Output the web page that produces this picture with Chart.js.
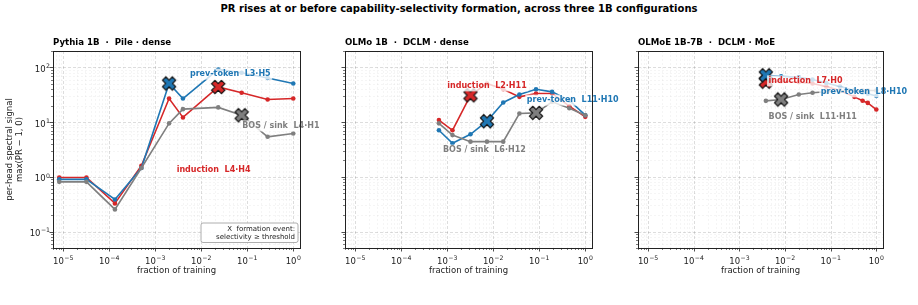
<!DOCTYPE html>
<html>
<head>
<meta charset="utf-8">
<script src="https://cdn.jsdelivr.net/npm/chart.js@4.4.1/dist/chart.umd.min.js"></script>
<style>
  html, body { margin: 0; padding: 0; background: #fff; }
  #wrap { position: relative; width: 918px; height: 305px; overflow: hidden; }
  #title { position: absolute; left: 0; top: 3px; width: 918px; line-height: 16px; text-align: center;
           font: bold 10px "DejaVu Sans"; color: #000; }
  canvas { position: absolute; top: 0; }
</style>
</head>
<body>
<div id="wrap">
  <div id="title">PR rises at or before capability-selectivity formation, across three 1B configurations</div>
  <canvas id="c1" width="330" height="305" style="left:0px;width:330px;height:305px"></canvas>
  <canvas id="c2" width="300" height="305" style="left:330px;width:300px;height:305px"></canvas>
  <canvas id="c3" width="288" height="305" style="left:630px;width:288px;height:305px"></canvas>
</div>
<script>
// ---- data ----
const xTickValues = [1e-5, 1e-4, 1e-3, 1e-2, 1e-1, 1];
const xTickExponents = ['\u22125', '\u22124', '\u22123', '\u22122', '\u22121', '0'];
const yTickValues = [0.1, 1, 10, 100];
const yTickExponents = ['\u22121', '0', '1', '2'];

// Pythia 1B
const pythiaFrac       = [8.2e-6, 3.2e-5, 1.33e-4, 5e-4, 2e-3, 4e-3, 0.0234, 0.0755, 0.277, 1.0];
const pythiaInduction  = [0.975, 0.975, 0.327, 1.6, 27, 12.2, 44, 34.4, 26, 27.1];
const pythiaPrevToken  = [0.9, 0.9, 0.386, 1.45, 51, 27, 92, 80, 64, 51];
const pythiaSink       = [0.81, 0.81, 0.254, 1.45, 9.5, 17.3, 18.6, 13.4, 5.4, 6.2];
const pythiaFormation  = [6, 4, 7];   // checkpoint index: induction, prev-token, sink

// OLMo 1B
const olmoFrac         = [6.6e-4, 1.3e-3, 3.2e-3, 7.3e-3, 0.0165, 0.037, 0.085, 0.19, 0.45, 1.0];
const olmoInduction    = [10.9, 7.1, 31, 51, 40, 29, 33.5, 33.5, 19.6, 12.5];
const olmoPrevToken    = [7.1, 4.1, 6.0, 10.4, 22.9, 32, 40, 35.8, 25, 13.4];
const olmoSink         = [9.5, 5.8, 4.4, 4.4, 4.4, 14.4, 14.8, 23.5, 18, 13.4];
const olmoFormation    = [2, 3, 6];

// OLMoE 1B-7B
const olmoeFrac        = [3.8e-3, 8.2e-3, 0.020, 0.040, 0.08, 0.16, 0.33, 0.5, 0.65, 1.0];
const olmoeInduction   = [55, 56, 54, 51, 45, 38, 29, 24.6, 22.5, 17];
const olmoePrevToken   = [72, 69, 66, 60, 52, 45, 38, 35, 33, 30];
const olmoeSink        = [24.5, 26, 32, 34.4, 36, 37, 38, 38, 38, 38];
const olmoeFormation   = [0, 0, 1];

const headNames = {
  pythia: ['induction  L4\u00B7H4', 'prev-token  L3\u00B7H5', 'BOS / sink  L4\u00B7H1'],
  olmo:   ['induction  L2\u00B7H11', 'prev-token  L11\u00B7H10', 'BOS / sink  L6\u00B7H12'],
  olmoe:  ['induction  L7\u00B7H0', 'prev-token  L8\u00B7H10', 'BOS / sink  L11\u00B7H11']
};

// ---- styling ----
const COLORS = { induction: '#d62728', prevToken: '#1f77b4', sink: '#7f7f7f' };
const FONT = 'DejaVu Sans';
const X_MIN = 6e-6, X_MAX = 1.4, Y_MIN = 0.05, Y_MAX = 200;

function makeXMarker(color) {
  const s = 18;
  const c = document.createElement('canvas');
  c.width = s; c.height = s;
  const g = c.getContext('2d');
  g.translate(s / 2, s / 2);
  g.rotate(Math.PI / 4);
  const L = 7, w = 2.4;
  const pts = [[-w,-L],[w,-L],[w,-w],[L,-w],[L,w],[w,w],[w,L],[-w,L],[-w,w],[-L,w],[-L,-w],[-w,-w]];
  g.beginPath();
  pts.forEach((p, i) => i ? g.lineTo(p[0], p[1]) : g.moveTo(p[0], p[1]));
  g.closePath();
  g.fillStyle = color;
  g.fill();
  g.lineWidth = 1.1;
  g.strokeStyle = '#111';
  g.stroke();
  return c;
}

function pts(xs, ys) { return xs.map((x, i) => ({ x: x, y: ys[i] })); }

function lineSet(xs, ys, color) {
  return {
    data: pts(xs, ys), borderColor: color, backgroundColor: color,
    borderWidth: 1.6, pointRadius: 2.3, pointBorderWidth: 0, tension: 0, clip: false
  };
}

function markerSet(x, y, color) {
  return {
    data: [{ x: x, y: y }], showLine: false, pointStyle: makeXMarker(color),
    pointRadius: 7, borderColor: color, backgroundColor: color
  };
}

function minorVals(lo, hi) {
  const out = [];
  for (let k = Math.floor(Math.log10(lo)); k <= Math.ceil(Math.log10(hi)); k++) {
    for (let m = 2; m <= 9; m++) {
      const v = m * Math.pow(10, k);
      if (v >= lo && v <= hi) out.push(v);
    }
  }
  return out;
}

// "10" with a raised, smaller exponent, like mathtext
function drawPower(ctx, exp, x, baseY, align) {
  ctx.font = '8.5px "' + FONT + '"';
  const wBase = ctx.measureText('10').width;
  ctx.font = '6.2px "' + FONT + '"';
  const wExp = ctx.measureText(exp).width;
  const total = wBase + wExp + 0.4;
  const start = align === 'center' ? x - total / 2 : x - total;
  ctx.textAlign = 'left';
  ctx.textBaseline = 'alphabetic';
  ctx.font = '8.5px "' + FONT + '"';
  ctx.fillText('10', start, baseY);
  ctx.font = '6.2px "' + FONT + '"';
  ctx.fillText(exp, start + wBase + 0.4, baseY - 3.9);
}

// grid, ticks, frame, annotations, panel title
const decor = {
  id: 'decor',
  beforeDatasetsDraw(chart) {
    const { ctx, chartArea: a, scales: { x, y } } = chart;
    ctx.save();
    ctx.beginPath();
    ctx.rect(a.left, a.top, a.right - a.left, a.bottom - a.top);
    ctx.clip();
    const lines = (scale, horiz, vals, color, width, dash) => {
      ctx.strokeStyle = color; ctx.lineWidth = width; ctx.setLineDash(dash);
      vals.forEach(v => {
        const p = Math.round(scale.getPixelForValue(v)) + 0.5;
        ctx.beginPath();
        if (horiz) { ctx.moveTo(p, a.top); ctx.lineTo(p, a.bottom); }
        else { ctx.moveTo(a.left, p); ctx.lineTo(a.right, p); }
        ctx.stroke();
      });
    };
    lines(x, true, minorVals(X_MIN, X_MAX), 'rgba(0,0,0,0.07)', 0.6, [2, 2]);
    lines(y, false, minorVals(Y_MIN, Y_MAX), 'rgba(0,0,0,0.07)', 0.6, [2, 2]);
    lines(x, true, xTickValues, 'rgba(0,0,0,0.17)', 0.8, [3, 2]);
    lines(y, false, yTickValues, 'rgba(0,0,0,0.17)', 0.8, [3, 2]);
    ctx.restore();
  },
  afterDatasetsDraw(chart, args, opts) {
    const { ctx, chartArea: a, scales: { x, y } } = chart;
    ctx.save();
    // annotations
    ctx.font = 'bold 8px "' + FONT + '"';
    ctx.textBaseline = 'middle';
    (opts.labels || []).forEach(l => {
      const px = x.getPixelForValue(l.x), py = y.getPixelForValue(l.y);
      const w = ctx.measureText(l.text).width;
      ctx.fillStyle = 'rgba(255,255,255,0.78)';
      ctx.fillRect(px - 1.5, py - 5.5, w + 3, 11);
      ctx.fillStyle = l.color;
      ctx.textAlign = 'left';
      ctx.fillText(l.text, px, py);
    });
    // key box
    if (opts.key) {
      const r = a.right - 2.5, b = a.bottom - 6, bw = 97, bh = 19.5;
      ctx.beginPath();
      ctx.roundRect(r - bw + 0.5, b - bh + 0.5, bw, bh, 2);
      ctx.fillStyle = 'rgba(255,255,255,0.9)';
      ctx.fill();
      ctx.strokeStyle = '#999';
      ctx.lineWidth = 0.8;
      ctx.stroke();
      ctx.fillStyle = '#222';
      ctx.font = '7px "' + FONT + '"';
      ctx.textAlign = 'right';
      ctx.fillText(opts.key[0], r - 2.5, b - 12.4);
      ctx.fillText(opts.key[1], r - 2.5, b - 4.9);
    }
    // frame
    ctx.strokeStyle = '#222';
    ctx.lineWidth = 1;
    ctx.setLineDash([]);
    ctx.strokeRect(Math.round(a.left) + 0.5, Math.round(a.top) + 0.5,
                   Math.round(a.right - a.left), Math.round(a.bottom - a.top));
    // tick marks (outward)
    const tick = (scale, horiz, v, len, lw) => {
      const p = Math.round(scale.getPixelForValue(v)) + 0.5;
      ctx.lineWidth = lw;
      ctx.beginPath();
      if (horiz) { ctx.moveTo(p, a.bottom); ctx.lineTo(p, a.bottom + len); }
      else { ctx.moveTo(a.left, p); ctx.lineTo(a.left - len, p); }
      ctx.stroke();
    };
    minorVals(X_MIN, X_MAX).forEach(v => tick(x, true, v, 2, 0.6));
    minorVals(Y_MIN, Y_MAX).forEach(v => tick(y, false, v, 2, 0.6));
    xTickValues.forEach(v => tick(x, true, v, 3.5, 0.8));
    yTickValues.forEach(v => tick(y, false, v, 3.5, 0.8));
    // tick labels
    ctx.fillStyle = '#222';
    xTickValues.forEach((v, i) => drawPower(ctx, xTickExponents[i], x.getPixelForValue(v), a.bottom + 16, 'center'));
    if (opts.yLabels) {
      yTickValues.forEach((v, i) => drawPower(ctx, yTickExponents[i], a.left - 3, y.getPixelForValue(v) + 4.6, 'right'));
    }
    // panel title
    ctx.fillStyle = '#000';
    ctx.font = 'bold 8.6px "' + FONT + '"';
    ctx.textAlign = 'left';
    ctx.textBaseline = 'middle';
    ctx.fillText(opts.title, a.left, a.top - 8);
    ctx.restore();
  }
};

function makePanel(id, cfg) {
  const xs = cfg.frac;
  const datasets = [
    markerSet(xs[cfg.formation[1]], cfg.prevToken[cfg.formation[1]], COLORS.prevToken),
    markerSet(xs[cfg.formation[0]], cfg.induction[cfg.formation[0]], COLORS.induction),
    markerSet(xs[cfg.formation[2]], cfg.sink[cfg.formation[2]], COLORS.sink),
    lineSet(xs, cfg.sink, COLORS.sink),
    lineSet(xs, cfg.prevToken, COLORS.prevToken),
    lineSet(xs, cfg.induction, COLORS.induction)
  ];
  return new Chart(document.getElementById(id), {
    type: 'line',
    data: { datasets: datasets },
    plugins: [decor],
    options: {
      responsive: false,
      animation: false,
      events: [],
      layout: { padding: { left: 0, right: cfg.padRight, top: 51, bottom: 0 } },
      plugins: {
        legend: { display: false },
        tooltip: { enabled: false },
        decor: { title: cfg.title, labels: cfg.labels, key: cfg.key, yLabels: cfg.yLabels }
      },
      scales: {
        x: {
          type: 'logarithmic', min: X_MIN, max: X_MAX,
          afterBuildTicks: s => { s.ticks = xTickValues.map(v => ({ value: v })); },
          afterFit: s => { s.height = 57; },
          grid: { display: false }, border: { display: false },
          ticks: { display: false },
          title: {
            display: true, text: 'fraction of training', color: '#222',
            font: { family: FONT, size: 8.5, lineHeight: 1.2 },
            padding: { top: 0, bottom: 29.6 }
          }
        },
        y: {
          type: 'logarithmic', min: Y_MIN, max: Y_MAX,
          afterBuildTicks: s => { s.ticks = yTickValues.map(v => ({ value: v })); },
          afterFit: s => { s.width = cfg.yWidth; },
          grid: { display: false }, border: { display: false },
          ticks: { display: false },
          title: {
            display: cfg.yLabels, text: ['per-head spectral signal', 'max(PR \u2212 1, 0)'], color: '#222',
            font: { family: FONT, size: 8.5, lineHeight: 1.15 },
            padding: { top: 5.1, bottom: 0 }
          }
        }
      }
    }
  });
}

makePanel('c1', {
  title: 'Pythia 1B  \u00B7  Pile \u00B7 dense',
  frac: pythiaFrac, induction: pythiaInduction, prevToken: pythiaPrevToken, sink: pythiaSink,
  formation: pythiaFormation, yWidth: 53, padRight: 30, yLabels: true,
  key: ['X  formation event:', 'selectivity \u2265 threshold'],
  labels: [
    { text: headNames.pythia[1], x: 5.68e-3, y: 75.5, color: COLORS.prevToken },
    { text: headNames.pythia[0], x: 2.92e-3, y: 1.355, color: COLORS.induction },
    { text: headNames.pythia[2], x: 0.0778, y: 8.55, color: COLORS.sink }
  ]
});

makePanel('c2', {
  title: 'OLMo 1B  \u00B7  DCLM \u00B7 dense',
  frac: olmoFrac, induction: olmoInduction, prevToken: olmoPrevToken, sink: olmoSink,
  formation: olmoFormation, yWidth: 15, padRight: 38, yLabels: false,
  labels: [
    { text: headNames.olmo[0], x: 1.0e-3, y: 46, color: COLORS.induction },
    { text: headNames.olmo[1], x: 0.0537, y: 25.3, color: COLORS.prevToken },
    { text: headNames.olmo[2], x: 8.1e-4, y: 3.08, color: COLORS.sink }
  ]
});

makePanel('c3', {
  title: 'OLMoE 1B-7B  \u00B7  DCLM \u00B7 MoE',
  frac: olmoeFrac, induction: olmoeInduction, prevToken: olmoePrevToken, sink: olmoeSink,
  formation: olmoeFormation, yWidth: 7, padRight: 35, yLabels: false,
  labels: [
    { text: headNames.olmoe[0], x: 4.35e-3, y: 56.9, color: COLORS.induction },
    { text: headNames.olmoe[1], x: 0.0607, y: 35.8, color: COLORS.prevToken },
    { text: headNames.olmoe[2], x: 4.35e-3, y: 12.5, color: COLORS.sink }
  ]
});
</script>
</body>
</html>
